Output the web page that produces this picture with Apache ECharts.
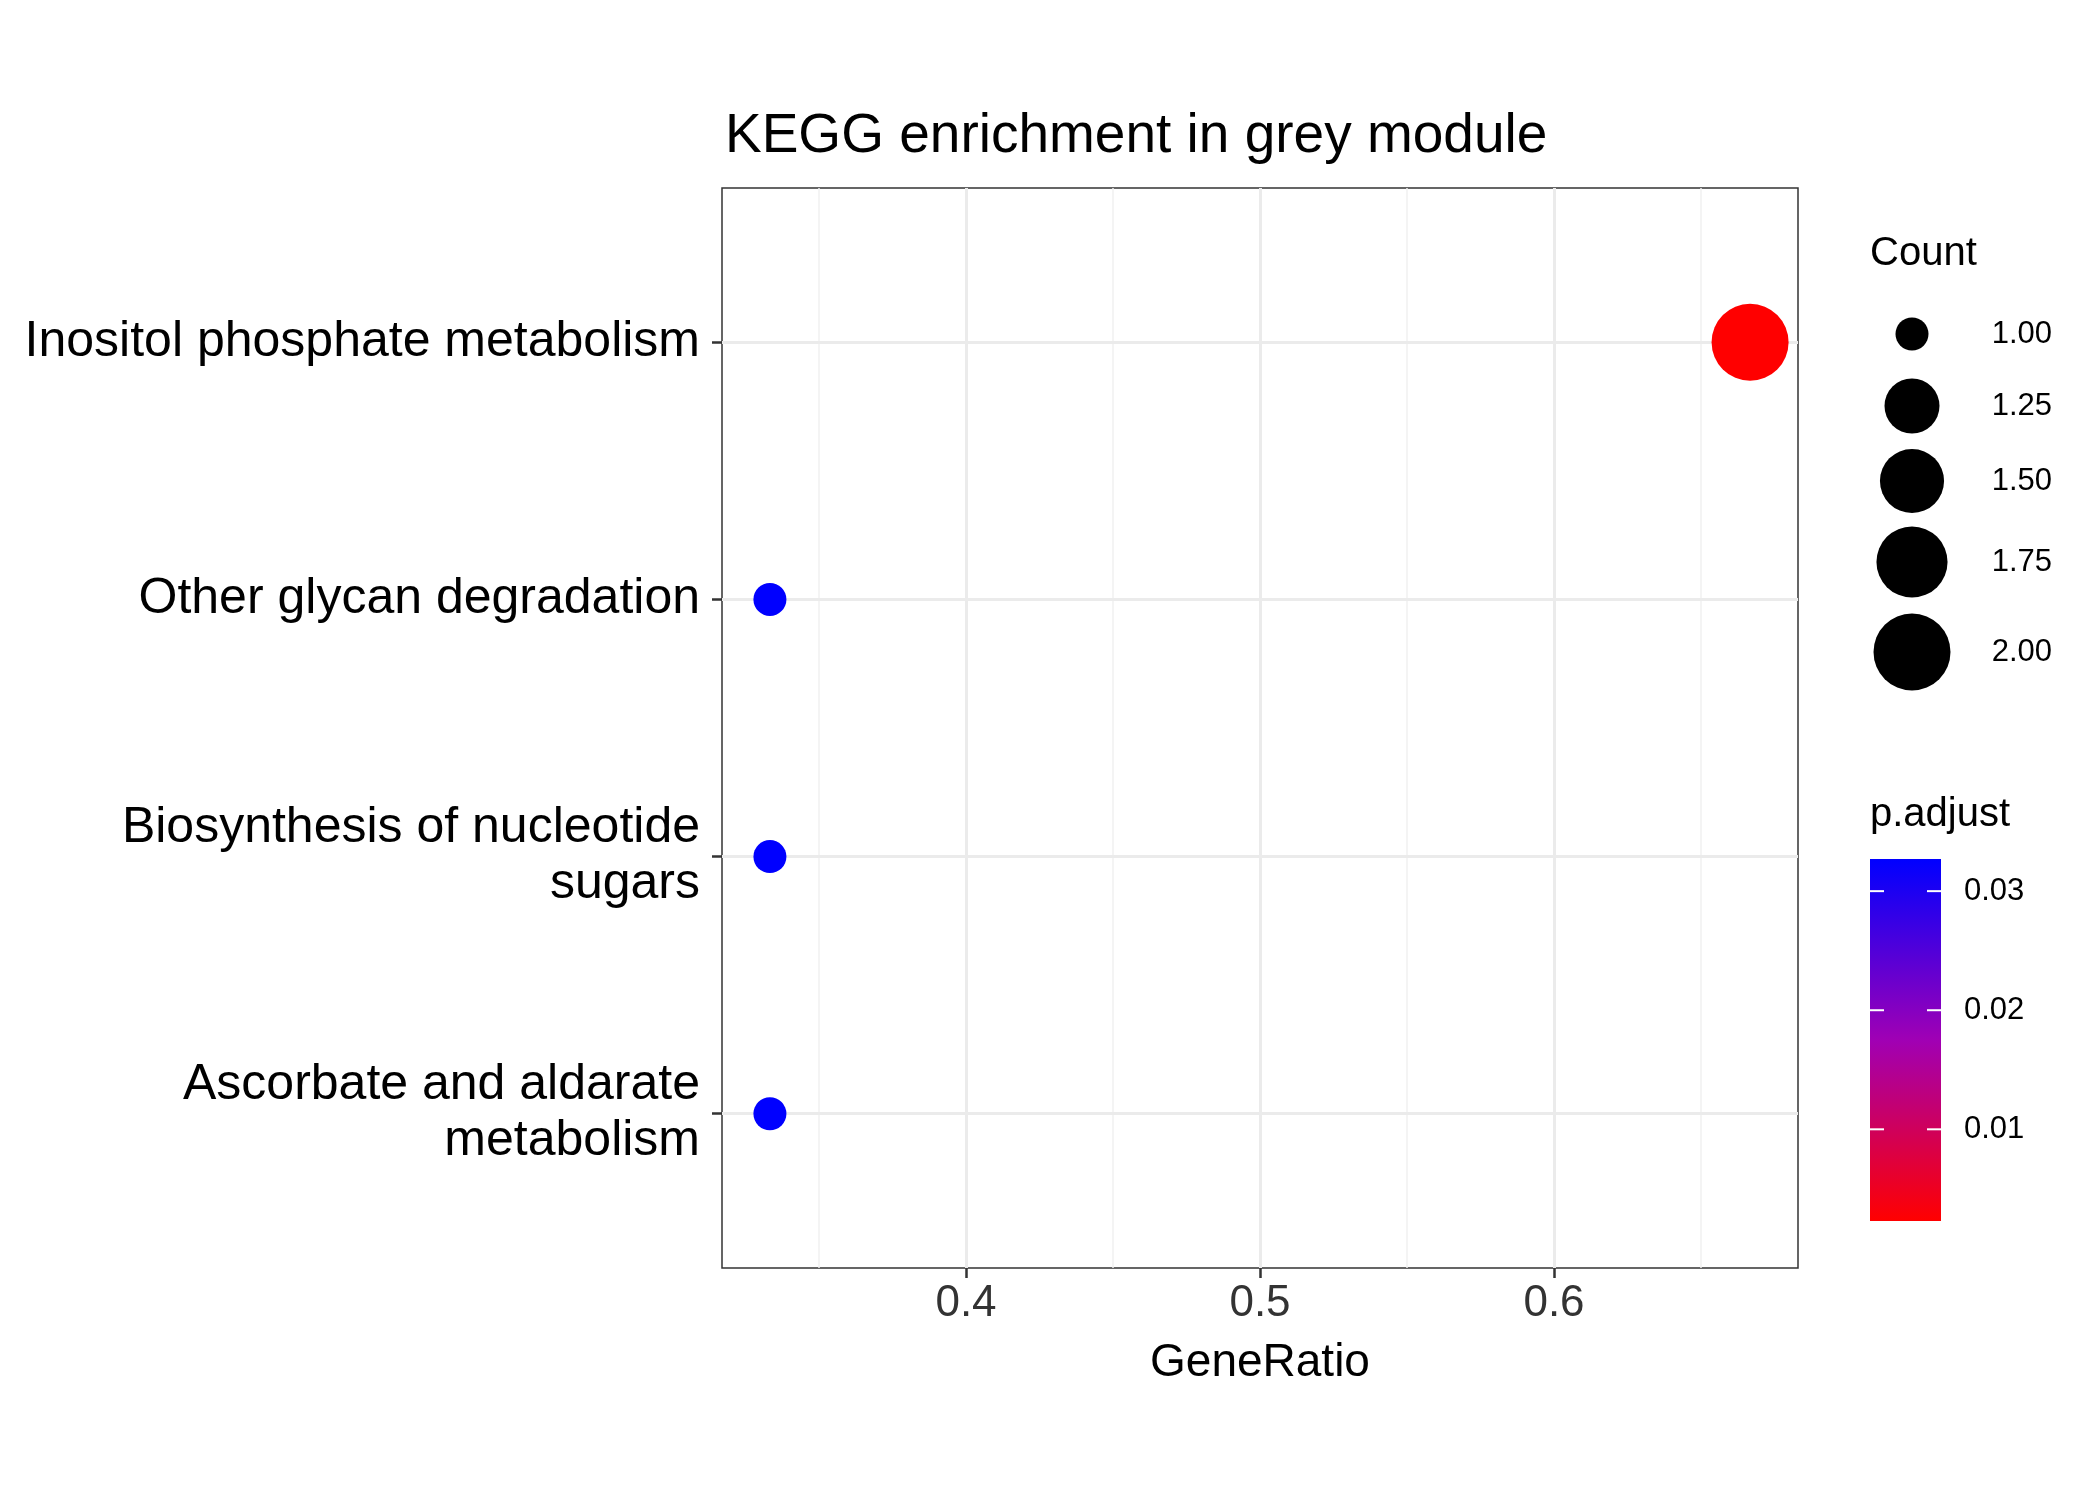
<!DOCTYPE html>
<html>
<head>
<meta charset="utf-8">
<script src="https://cdn.jsdelivr.net/npm/echarts@6/dist/echarts.min.js"></script>
<style>html,body{margin:0;padding:0;background:#fff}#main{width:2100px;height:1500px}</style>
</head>
<body>
<div id="main"></div>
<script>
// data
var pathways = ['Ascorbate and aldarate\nmetabolism', 'Biosynthesis of nucleotide\nsugars', 'Other glycan degradation', 'Inositol phosphate metabolism'];
var geneRatio = [0.3333, 0.3333, 0.3333, 0.6667];
var counts = [1, 1, 1, 2];
var padjust = [0.0327, 0.0327, 0.0327, 0.0023];
var xTicks = [0.4, 0.5, 0.6];
var xMinor = [0.35, 0.45, 0.55, 0.65];
var sizeLegend = [1.00, 1.25, 1.50, 1.75, 2.00];
var colorTicks = [0.01, 0.02, 0.03];

var font = 'Liberation Sans, Arial, sans-serif';
var pMin = 0.0023, pMax = 0.0327;
function dia(c) { return 33 + 44 * Math.sqrt(c - 1); }

var chart = echarts.init(document.getElementById('main'));

var points = pathways.map(function (p, i) {
  return { value: [geneRatio[i], i + 1, counts[i], padjust[i]] };
});

// color bar geometry
var barTop = 859, barBot = 1221, barX = 1870, barW = 71;
function barY(v) { return barBot - (v - pMin) / (pMax - pMin) * (barBot - barTop); }

var graphics = [
  { type: 'text', left: 1870, top: 234, style: { text: 'Count', font: '40px ' + font, fill: '#000' } },
  { type: 'text', left: 1870, top: 795, style: { text: 'p.adjust', font: '40px ' + font, fill: '#000' } },
  { type: 'rect', shape: { x: barX, y: barTop, width: barW, height: barBot - barTop },
    style: { fill: new echarts.graphic.LinearGradient(0, 0, 0, 1, [
      { offset: 0, color: '#0000ff' }, { offset: 0.5, color: '#a000b4' }, { offset: 1, color: '#ff0000' }]) } }
];
colorTicks.forEach(function (v) {
  var y = barY(v);
  graphics.push({ type: 'line', shape: { x1: barX, y1: y, x2: barX + 14, y2: y }, style: { stroke: '#fff', lineWidth: 2 } });
  graphics.push({ type: 'line', shape: { x1: barX + barW - 14, y1: y, x2: barX + barW, y2: y }, style: { stroke: '#fff', lineWidth: 2 } });
  graphics.push({ type: 'text', x: 1964, y: y, style: { text: v.toFixed(2), font: '31px ' + font, fill: '#000', verticalAlign: 'middle' } });
});

var legendY = [334, 406, 481, 562, 652];
sizeLegend.forEach(function (c, i) {
  graphics.push({ type: 'circle', shape: { cx: 1912, cy: legendY[i], r: dia(c) / 2 }, style: { fill: '#000' } });
  graphics.push({ type: 'text', x: 2052, y: legendY[i], style: { text: c.toFixed(2), font: '31px ' + font, fill: '#000', align: 'right', verticalAlign: 'middle' } });
});

var option = {
  backgroundColor: '#fff',
  animation: false,
  title: {
    text: 'KEGG enrichment in grey module',
    left: 720, top: 104,
    textStyle: { fontFamily: font, fontWeight: 'normal', fontSize: 55, color: '#000' }
  },
  grid: { left: 722, top: 188, width: 1076, height: 1080, show: true, borderColor: '#333', borderWidth: 1.5, backgroundColor: 'transparent' },
  xAxis: {
    type: 'value', min: 0.317, max: 0.683,
    name: 'GeneRatio', nameLocation: 'middle', nameGap: 72,
    nameTextStyle: { fontFamily: font, fontSize: 46, color: '#000' },
    axisLine: { show: false },
    axisTick: { show: true, customValues: xTicks, length: 10, lineStyle: { color: '#333', width: 2.5 } },
    axisLabel: { customValues: xTicks, fontFamily: font, fontSize: 44, color: '#333', margin: 14, formatter: function (v) { return String(v); } },
    splitLine: { show: false }
  },
  yAxis: {
    type: 'value', min: 0.4, max: 4.6,
    axisLine: { show: false },
    axisTick: { show: true, customValues: [1, 2, 3, 4], length: 10, lineStyle: { color: '#333', width: 2.5 } },
    axisLabel: { customValues: [1, 2, 3, 4], fontFamily: font, fontSize: 50, color: '#000', margin: 22, lineHeight: 56,
      formatter: function (v) { return pathways[Math.round(v) - 1] || ''; } },
    splitLine: { show: false }
  },
  series: [{
    type: 'scatter',
    data: points,
    symbolSize: function (v) { return dia(v[2]); },
    itemStyle: {
      opacity: 1,
      color: function (p) {
        var t = (p.value[3] - pMin) / (pMax - pMin);
        return t > 0.5 ? '#0000ff' : '#ff0000';
      }
    },
    markLine: {
      silent: true, symbol: 'none', label: { show: false }, z: 0,
      data: xMinor.map(function (v) { return { xAxis: v, lineStyle: { color: '#f0f0f0', width: 1.5, type: 'solid' } }; })
        .concat(xTicks.map(function (v) { return { xAxis: v, lineStyle: { color: '#ebebeb', width: 3, type: 'solid' } }; }))
        .concat([1, 2, 3, 4].map(function (v) { return { yAxis: v, lineStyle: { color: '#ebebeb', width: 3, type: 'solid' } }; }))
    }
  }],
  graphic: graphics
};
chart.setOption(option);
</script>
</body>
</html>
